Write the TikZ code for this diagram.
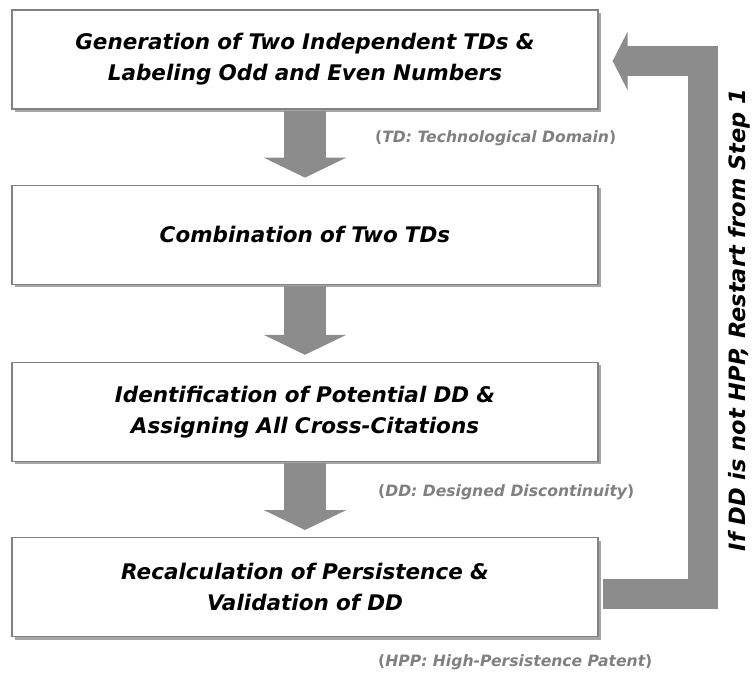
\documentclass[tikz,border=0pt]{standalone}
\usepackage{fontspec}
\setmainfont{DejaVu Sans}
\usetikzlibrary{arrows.meta,positioning,shadows,calc}

\definecolor{arrowgray}{RGB}{140,140,140}
\definecolor{linegray}{RGB}{130,130,130}
\definecolor{notegray}{RGB}{128,128,128}

\tikzset{
    stepbox/.style={draw=linegray, line width=1.2pt, fill=white, minimum width=586pt, minimum height=99pt,
        inner sep=0pt, text width=570pt, align=center, font=\fontsize{21.5}{31}\selectfont\bfseries\itshape,
        drop shadow={shadow xshift=3pt, shadow yshift=-3pt, fill=black!35, opacity=1}},
    downarrow/.style={draw=arrowgray, line width=42pt, -{Triangle[width=82pt,length=20pt]}},
    looparrow/.style={draw=arrowgray, line width=30pt, line join=miter, -{Triangle[width=58pt,length=15pt]}},
    note/.style={anchor=west, text=notegray, inner sep=0pt, font=\fontsize{15.6}{18}\selectfont\bfseries\itshape}
}

\begin{document}
\begin{tikzpicture}[x=1pt, y=-1pt]
    \useasboundingbox (0,0) rectangle (753,673);

    % Four steps
    \node[stepbox] (generation) at (305,59.5) {Generation of Two Independent TDs \& \\ Labeling Odd and Even Numbers};
    \node[stepbox, below=75pt of generation] (combination) {Combination of Two TDs};
    \node[stepbox, below=77pt of combination] (identification) {Identification of Potential DD \& \\ Assigning All Cross-Citations};
    \node[stepbox, below=75pt of identification] (recalculation) {Recalculation of Persistence \& \\ Validation of DD};

    % Arrows between steps
    \draw[downarrow] ([yshift=-1pt]generation.south) -- ([yshift=7pt]combination.north);
    \draw[downarrow] ([yshift=-1pt]combination.south) -- ([yshift=7pt]identification.north);
    \draw[downarrow] ([yshift=-1pt]identification.south) -- ([yshift=7pt]recalculation.north);

    % Restart loop
    \coordinate (loopcorner) at (703,61);
    \draw[looparrow] ([xshift=4pt,yshift=-7pt]recalculation.east) -| (loopcorner) -- ([xshift=14pt,yshift=-1.5pt]generation.east);
    \node[rotate=90, anchor=base, inner sep=0pt, font=\fontsize{22.5}{26}\selectfont\bfseries\itshape] (restart) at (745,320) {If DD is not HPP, Restart from Step 1};

    % Notes
    \node[note] (tdnote) at (375,138) {{\upshape(}TD: Technological Domain{\upshape)}};
    \node[note] (ddnote) at (378,492) {{\upshape(}DD: Designed Discontinuity{\upshape)}};
    \node[note] (hppnote) at (378,662) {{\upshape(}HPP: High-Persistence Patent{\upshape)}};
\end{tikzpicture}
\end{document}
